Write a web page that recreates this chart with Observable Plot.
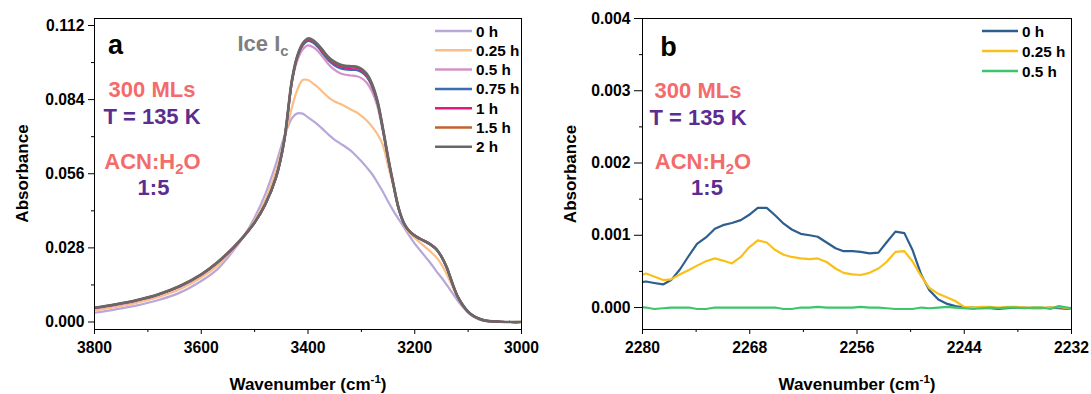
<!DOCTYPE html>
<html><head><meta charset="utf-8">
<script src="https://cdn.jsdelivr.net/npm/d3@7"></script>
<script src="https://cdn.jsdelivr.net/npm/@observablehq/plot@0.6"></script>
<style>
html,body{margin:0;padding:0;background:#fff;}
#wrap{position:relative;width:1091px;height:394px;overflow:hidden;font-family:"Liberation Sans",Arial,sans-serif;font-weight:bold;}
#wrap > svg{position:absolute;top:0;}
</style></head><body><div id="wrap"></div>
<script>
// ---------- Panel a data ----------
const wnA = [
  3800,3760,3720,3680,3640,3600,3570,3540,3520,3500,
  3480,3460,3445,3430,3420,3410,3400,3390,3380,3370,
  3360,3350,3340,3330,3320,3310,3300,3290,3280,3270,
  3260,3250,3240,3230,3220,3210,3200,3190,3180,3170,
  3160,3150,3140,3130,3120,3110,3100,3090,3080,3070,
  3060,3040,3020,3000];
const a0h = [
  0.0035,0.0048,0.0063,0.0083,0.0111,0.0155,0.0199,0.0269,0.0325,0.0395,
  0.0483,0.0597,0.0697,0.0770,0.0788,0.0787,0.0773,0.0759,0.0743,0.0724,
  0.0705,0.0688,0.0675,0.0662,0.0647,0.0628,0.0607,0.0584,0.0559,0.0527,
  0.0493,0.0455,0.0420,0.0388,0.0357,0.0325,0.0296,0.0271,0.0246,0.0221,
  0.0193,0.0168,0.0140,0.0111,0.0082,0.0057,0.0035,0.0020,0.0010,0.0005,
  0.0003,0.0001,0.0000,0.0000];
const a025h = [
  0.0044,0.0057,0.0073,0.0095,0.0124,0.0168,0.0212,0.0275,0.0325,0.0382,
  0.0460,0.0571,0.0685,0.0811,0.0877,0.0914,0.0914,0.0900,0.0884,0.0864,
  0.0846,0.0833,0.0824,0.0814,0.0803,0.0793,0.0779,0.0761,0.0738,0.0710,
  0.0670,0.0590,0.0512,0.0425,0.0368,0.0336,0.0318,0.0300,0.0283,0.0265,
  0.0245,0.0218,0.0180,0.0136,0.0094,0.0062,0.0038,0.0021,0.0011,0.0006,
  0.0003,0.0001,0.0000,0.0002];
const a05h = [
  0.0051,0.0064,0.0080,0.0102,0.0133,0.0177,0.0222,0.0278,0.0323,0.0375,
  0.0444,0.0546,0.0680,0.0905,0.0988,0.1029,0.1045,0.1038,0.1020,0.0995,
  0.0970,0.0952,0.0940,0.0934,0.0931,0.0929,0.0921,0.0904,0.0871,0.0815,
  0.0722,0.0615,0.0516,0.0427,0.0371,0.0342,0.0325,0.0313,0.0303,0.0291,
  0.0275,0.0246,0.0205,0.0148,0.0097,0.0063,0.0038,0.0022,0.0012,0.0006,
  0.0003,0.0001,0.0000,0.0000];
const a075h = [
  0.0053,0.0066,0.0082,0.0104,0.0135,0.0179,0.0224,0.0280,0.0324,0.0375,
  0.0444,0.0545,0.0679,0.0910,0.1000,0.1044,0.1062,0.1055,0.1035,0.1009,
  0.0985,0.0969,0.0959,0.0954,0.0952,0.0952,0.0944,0.0926,0.0889,0.0829,
  0.0730,0.0619,0.0519,0.0428,0.0372,0.0343,0.0326,0.0314,0.0304,0.0292,
  0.0276,0.0247,0.0205,0.0148,0.0097,0.0063,0.0038,0.0022,0.0012,0.0006,
  0.0003,0.0001,0.0000,0.0000];
const a1h = [
  0.0053,0.0066,0.0082,0.0104,0.0135,0.0179,0.0224,0.0280,0.0324,0.0375,
  0.0444,0.0545,0.0679,0.0912,0.1002,0.1047,0.1066,0.1059,0.1040,0.1015,
  0.0991,0.0976,0.0966,0.0961,0.0960,0.0960,0.0951,0.0932,0.0894,0.0833,
  0.0733,0.0621,0.0520,0.0429,0.0373,0.0344,0.0327,0.0315,0.0305,0.0293,
  0.0277,0.0248,0.0206,0.0149,0.0098,0.0064,0.0039,0.0023,0.0013,0.0006,
  0.0003,0.0001,0.0000,0.0000];
const a15h = [
  0.0054,0.0067,0.0083,0.0105,0.0136,0.0180,0.0225,0.0281,0.0325,0.0376,
  0.0445,0.0546,0.0680,0.0914,0.1004,0.1050,0.1069,0.1062,0.1043,0.1018,
  0.0995,0.0980,0.0971,0.0966,0.0964,0.0963,0.0954,0.0935,0.0897,0.0834,
  0.0734,0.0621,0.0520,0.0428,0.0372,0.0343,0.0326,0.0314,0.0304,0.0292,
  0.0276,0.0247,0.0206,0.0149,0.0098,0.0064,0.0039,0.0023,0.0013,0.0006,
  0.0003,0.0001,0.0000,0.0000];
const a2h = [
  0.0054,0.0067,0.0083,0.0105,0.0136,0.0180,0.0225,0.0281,0.0325,0.0376,
  0.0445,0.0546,0.0680,0.0915,0.1005,0.1052,0.1071,0.1064,0.1045,0.1020,
  0.0997,0.0982,0.0973,0.0968,0.0966,0.0965,0.0956,0.0937,0.0899,0.0836,
  0.0735,0.0622,0.0520,0.0428,0.0372,0.0343,0.0326,0.0314,0.0304,0.0292,
  0.0276,0.0247,0.0206,0.0149,0.0098,0.0064,0.0039,0.0023,0.0013,0.0006,
  0.0003,0.0001,0.0000,0.0000];
const namesA = ["0 h","0.25 h","0.5 h","0.75 h","1 h","1.5 h","2 h"];
const colorsA = ["#B8A7D9","#FBBE87","#D493C7","#3B6DB4","#E8177D","#C1622B","#686868"];
const valuesA = [a0h,a025h,a05h,a075h,a1h,a15h,a2h];
const xTicksA = [3800,3600,3400,3200,3000];
const xMinorA = [3700,3500,3300,3100];
const yTicksA = [0,0.028,0.056,0.084,0.112];
const yMinorA = [0.014,0.042,0.070,0.098];

// ---------- Panel b data ----------
const wnB = [
  2280.6,2279.6,2278.7,2277.7,2276.8,2275.8,2274.8,2273.9,2272.9,2271.9,
  2271.0,2270.0,2269.0,2268.1,2267.1,2266.1,2265.2,2264.2,2263.3,2262.3,
  2261.3,2260.4,2259.4,2258.4,2257.5,2256.5,2255.6,2254.6,2253.6,2252.7,
  2251.7,2250.7,2249.8,2248.8,2247.9,2246.9,2245.9,2245.0,2244.0,2243.0,
  2242.1,2241.1,2240.2,2239.2,2238.2,2237.3,2236.3,2235.3,2234.4,2233.4,
  2232.5,2231.5];
const b0h = [
  0.00034,0.00036,0.00034,0.00032,0.00038,0.00053,0.00072,0.00088,0.00097,0.00109,
  0.00114,0.00117,0.00121,0.00128,0.00138,0.00138,0.00128,0.00116,0.00108,0.00102,
  0.00100,0.00098,0.00090,0.00082,0.00078,0.00078,0.00077,0.00075,0.00076,0.00090,
  0.00105,0.00103,0.00080,0.00045,0.00024,0.00011,0.00005,0.00002,0.00000,0.00000,
  -0.00001,-0.00001,-0.00002,-0.00001,0.00000,0.00000,-0.00001,-0.00001,0.00000,-0.00001,
  -0.00002,-0.00002];
const b025h = [
  0.00043,0.00047,0.00043,0.00038,0.00039,0.00046,0.00052,0.00058,0.00064,0.00068,
  0.00065,0.00061,0.00070,0.00083,0.00093,0.00090,0.00080,0.00073,0.00070,0.00068,
  0.00067,0.00068,0.00063,0.00054,0.00048,0.00046,0.00045,0.00048,0.00054,0.00063,
  0.00077,0.00078,0.00064,0.00043,0.00027,0.00019,0.00014,0.00009,0.00001,0.00000,
  0.00001,0.00001,0.00000,0.00001,0.00001,0.00000,0.00000,0.00000,0.00000,0.00001,
  -0.00001,-0.00002];
const b05h = [
  0.00001,0.00000,-0.00002,-0.00001,0.00000,0.00000,0.00000,-0.00002,-0.00002,0.00000,
  0.00000,0.00000,0.00000,0.00000,0.00000,0.00000,0.00000,-0.00002,-0.00002,0.00000,
  0.00000,0.00001,0.00000,0.00000,0.00000,0.00000,0.00001,0.00000,0.00000,-0.00001,
  -0.00002,-0.00002,-0.00002,0.00000,-0.00001,0.00000,0.00001,0.00000,-0.00001,-0.00002,
  -0.00001,0.00000,-0.00001,0.00000,0.00000,-0.00001,0.00000,0.00000,-0.00002,0.00002,
  0.00000,-0.00002];
const namesB = ["0 h","0.25 h","0.5 h"];
const colorsB = ["#2E5E8E","#F9C01A","#3DC46C"];
const valuesB = [b0h,b025h,b05h];
const xTicksB = [2280,2268,2256,2244,2232];
const xMinorB = [2274,2262,2250,2238];
const yTicksB = [0,0.001,0.002,0.003,0.004];
const yMinorB = [0.0005,0.0015,0.0025,0.0035];

// ---------- drawing ----------
const FONT = '"Liberation Sans", Arial, sans-serif';
const tidy = (wn, vals, names) => names.map((n, si) => wn.map((w, i) => ({wn: w, abs: vals[si][i], series: n})));

function panel({wn, vals, names, colors, width, ml, mr, xDomain, yDomain, xT, xM, yT, yM, yTick, curve, widths}) {
  const groups = tidy(wn, vals, names);
  return Plot.plot({
    width, height: 394,
    marginLeft: ml, marginRight: mr, marginTop: 18, marginBottom: 65,
    style: {fontFamily: FONT, fontSize: "15.7px", fontWeight: "bold", color: "#000", background: "transparent", overflow: "visible"},
    x: {domain: xDomain},
    y: {domain: yDomain},
    marks: [
      ...groups.map((g, i) => Plot.line(g, {x: "wn", y: "abs", stroke: colors[i], strokeWidth: widths[i], curve, clip: true})),
      Plot.frame({stroke: "#000", strokeWidth: 1}),
      Plot.axisY({ticks: yT, tickSize: yTick, tickPadding: 4, tickFormat: d3.format(".3f"), label: null}),
      Plot.axisY({ticks: yM, tickSize: 3, tickFormat: () => "", label: null}),
      Plot.axisX({ticks: xT, tickSize: 5, tickPadding: 7.5, tickFormat: d => String(d), label: null}),
      Plot.axisX({ticks: xM, tickSize: 3, tickFormat: () => "", label: null})
    ]
  });
}

const wrap = document.getElementById("wrap");
const plotA = panel({wn: wnA, vals: valuesA, names: namesA, colors: colorsA, width: 545, ml: 94, mr: 24,
  xDomain: [3800, 3000], yDomain: [-0.00283, 0.11464], xT: xTicksA, xM: xMinorA, yT: yTicksA, yM: yMinorA,
  yTick: 6, curve: "catmull-rom", widths: [2.2, 2.2, 2.2, 2.2, 2.2, 2.2, 2.7]});
plotA.style.left = "0px";
wrap.appendChild(plotA);
const plotB = panel({wn: wnB, vals: valuesB, names: namesB, colors: colorsB, width: 546, ml: 97, mr: 20,
  xDomain: [2280, 2232], yDomain: [-0.000304, 0.004], xT: xTicksB, xM: xMinorB, yT: yTicksB, yM: yMinorB,
  yTick: 8, curve: "linear", widths: [2.2, 2.2, 2.2]});
plotB.style.left = "545px";
wrap.appendChild(plotB);

// ---------- overlay: annotations, legends, axis titles ----------
const ov = d3.select(wrap).append("svg").attr("width", 1091).attr("height", 394)
  .style("left", "0px").style("font-family", FONT).style("font-weight", "bold");
function txt(x, y, parts, size, fill, anchor = "middle", rotate = false) {
  const t = ov.append("text").attr("font-size", size).attr("fill", fill).attr("text-anchor", anchor);
  if (rotate) t.attr("transform", `translate(${x},${y}) rotate(-90)`); else t.attr("x", x).attr("y", y);
  let shift = 0;
  for (const p of parts) {
    const [s, kind] = Array.isArray(p) ? p : [p, ""];
    const target = kind === "sub" ? 5 : kind === "sup" ? -7 : 0;
    const sp = t.append("tspan").text(s).attr("dy", target - shift);
    if (kind) sp.attr("font-size", size * 0.68);
    shift = target;
  }
}
const SAL = "#F36B6B", PUR = "#5C2D91";
// panel a
txt(115.5, 53.5, ["a"], 27, "#000");
txt(237.5, 50.5, ["Ice I", ["c", "sub"]], 22, "#7F7F7F", "start");
txt(152, 97, ["300 MLs"], 22, SAL);
txt(152, 124, ["T = 135 K"], 22, PUR);
txt(152.5, 168.5, ["ACN:H", ["2", "sub"], "O"], 22, SAL);
txt(153.5, 194.5, ["1:5"], 22, PUR);
// panel b
txt(668.5, 56, ["b"], 27, "#000");
txt(698, 97.5, ["300 MLs"], 22, SAL);
txt(698, 125, ["T = 135 K"], 22, PUR);
txt(703, 169, ["ACN:H", ["2", "sub"], "O"], 22, SAL);
txt(707, 195, ["1:5"], 22, PUR);
// axis titles
txt(27.5, 173.5, ["Absorbance"], 17, "#000", "middle", true);
txt(575.5, 174, ["Absorbance"], 17, "#000", "middle", true);
txt(308, 389.5, ["Wavenumber (cm", ["-1", "sup"], ")"], 17, "#000");
txt(857, 389.5, ["Wavenumber (cm", ["-1", "sup"], ")"], 17, "#000");
// legends
function legend(names, colors, x0, x1, xt, y0, dy) {
  names.forEach((n, i) => {
    const y = y0 + i * dy;
    ov.append("line").attr("x1", x0).attr("x2", x1).attr("y1", y).attr("y2", y)
      .attr("stroke", colors[i]).attr("stroke-width", 2.5);
    txt(xt, y + 5.5, [n], 15.3, "#000", "start");
  });
}
legend(namesA, colorsA, 435, 472, 476, 31, 19.3);
legend(namesB, colorsB, 982, 1018, 1022, 31, 20);
</script></body></html>
